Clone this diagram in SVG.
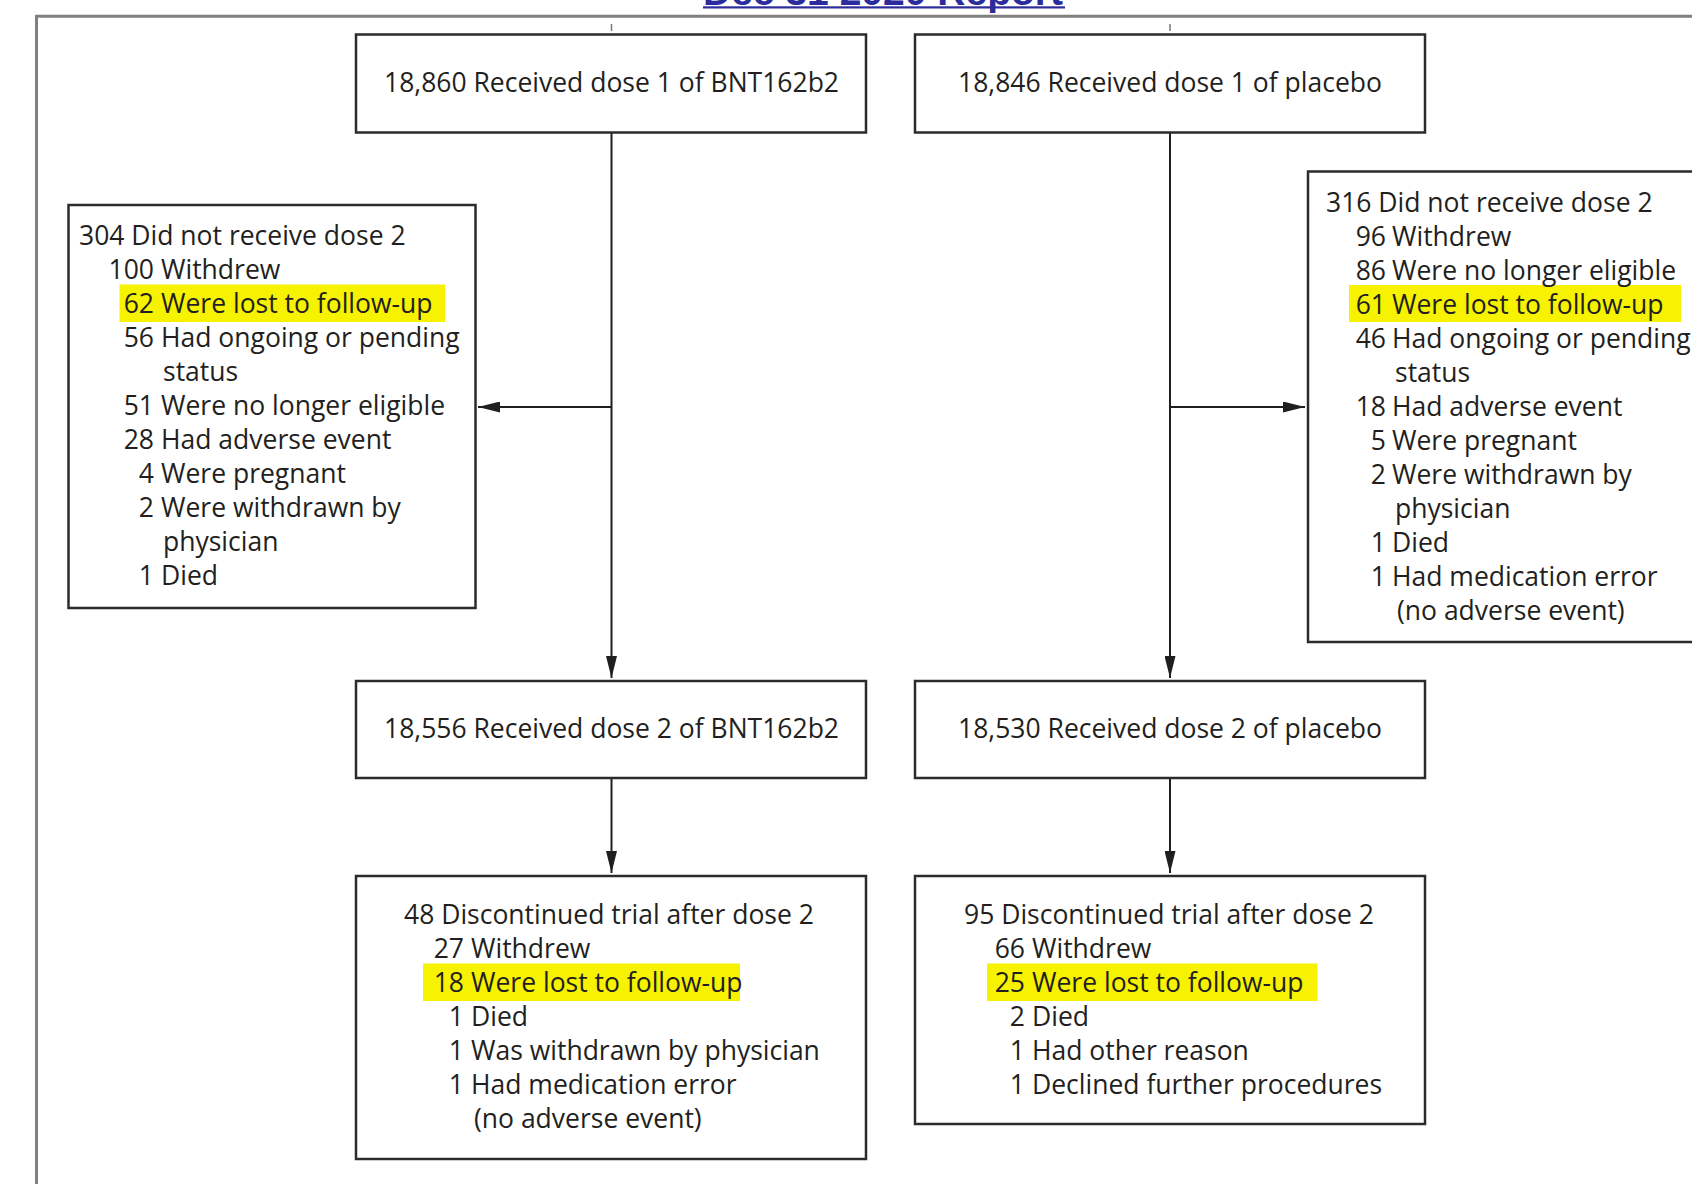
<svg xmlns="http://www.w3.org/2000/svg" width="1692" height="1184" viewBox="0 0 1692 1184">
<style>
  .box{fill:#fff;stroke:#2b2b2b;stroke-width:2.5}
  .t{font-family:"Open Sans","Noto Sans","DejaVu Sans",sans-serif;font-size:26.5px;fill:#231f20}
  .n{text-anchor:end}
  .c{text-anchor:middle}
  .hl{fill:#f7f200}
  .edge{fill:none;stroke:#1f1f1f;stroke-width:2}
  .tick{stroke:#777;stroke-width:1.5}
</style>
<defs>
  <marker id="ah" viewBox="0 0 22 11" refX="22" refY="5.5" markerWidth="22" markerHeight="11" markerUnits="userSpaceOnUse" orient="auto">
    <path d="M0,0 L22,5.5 L0,11 Z" fill="#1f1f1f"/>
  </marker>
</defs>
<rect width="1692" height="1184" fill="#fff"/>

<g id="header">
  <text x="703" y="4.5" font-family="'Liberation Sans',Arial,sans-serif" font-weight="bold" font-size="39" fill="#2c2c9c" textLength="360" lengthAdjust="spacingAndGlyphs">Dec 31 2020 Report</text>
  <rect x="703" y="6.3" width="362" height="2.2" fill="#2c2c9c"/>
</g>

<path id="frame" d="M36.5,1184 V16.3 H1692" fill="none" stroke="#808080" stroke-width="3"/>

<g id="connectors">
  <line class="tick" x1="611.5" y1="24" x2="611.5" y2="31"/>
  <line class="tick" x1="1170" y1="24" x2="1170" y2="31"/>
  <line class="edge" x1="611.5" y1="133" x2="611.5" y2="678" marker-end="url(#ah)"/>
  <line class="edge" x1="611.5" y1="407" x2="478" y2="407" marker-end="url(#ah)"/>
  <line class="edge" x1="1170" y1="133" x2="1170" y2="678" marker-end="url(#ah)"/>
  <line class="edge" x1="1170" y1="407" x2="1305" y2="407" marker-end="url(#ah)"/>
  <line class="edge" x1="611.5" y1="778" x2="611.5" y2="873" marker-end="url(#ah)"/>
  <line class="edge" x1="1170" y1="778" x2="1170" y2="873" marker-end="url(#ah)"/>
</g>

<g id="node-dose1-bnt">
  <rect class="box" x="356" y="34.5" width="510" height="98"/>
  <text class="t c" x="611.5" y="92">18,860 Received dose 1 of BNT162b2</text>
</g>

<g id="node-dose1-placebo">
  <rect class="box" x="915" y="34.5" width="510" height="98"/>
  <text class="t c" x="1170" y="92">18,846 Received dose 1 of placebo</text>
</g>

<g id="node-no-dose2-bnt">
  <rect class="box" x="68.5" y="205" width="407" height="403"/>
  <rect class="hl" x="119.5" y="284.5" width="325.5" height="37.5"/>
  <text class="t" x="79" y="245">304 Did not receive dose 2</text>
  <text class="t n" x="154" y="279">100</text><text class="t" x="161" y="279">Withdrew</text>
  <text class="t n" x="154" y="313">62</text><text class="t" x="161" y="313">Were lost to follow-up</text>
  <text class="t n" x="154" y="347">56</text><text class="t" x="161" y="347">Had ongoing or pending</text>
  <text class="t" x="163" y="381">status</text>
  <text class="t n" x="154" y="415">51</text><text class="t" x="161" y="415">Were no longer eligible</text>
  <text class="t n" x="154" y="449">28</text><text class="t" x="161" y="449">Had adverse event</text>
  <text class="t n" x="154" y="483">4</text><text class="t" x="161" y="483">Were pregnant</text>
  <text class="t n" x="154" y="517">2</text><text class="t" x="161" y="517">Were withdrawn by</text>
  <text class="t" x="163" y="551">physician</text>
  <text class="t n" x="154" y="585">1</text><text class="t" x="161" y="585">Died</text>
</g>

<g id="node-no-dose2-placebo">
  <rect class="box" x="1308" y="171.5" width="420" height="470.5"/>
  <rect class="hl" x="1349" y="285" width="332" height="37"/>
  <text class="t" x="1326" y="211.5">316 Did not receive dose 2</text>
  <text class="t n" x="1386" y="245.5">96</text><text class="t" x="1392" y="245.5">Withdrew</text>
  <text class="t n" x="1386" y="279.5">86</text><text class="t" x="1392" y="279.5">Were no longer eligible</text>
  <text class="t n" x="1386" y="313.5">61</text><text class="t" x="1392" y="313.5">Were lost to follow-up</text>
  <text class="t n" x="1386" y="347.5">46</text><text class="t" x="1392" y="347.5">Had ongoing or pending</text>
  <text class="t" x="1395" y="381.5">status</text>
  <text class="t n" x="1386" y="415.5">18</text><text class="t" x="1392" y="415.5">Had adverse event</text>
  <text class="t n" x="1386" y="449.5">5</text><text class="t" x="1392" y="449.5">Were pregnant</text>
  <text class="t n" x="1386" y="483.5">2</text><text class="t" x="1392" y="483.5">Were withdrawn by</text>
  <text class="t" x="1395" y="517.5">physician</text>
  <text class="t n" x="1386" y="551.5">1</text><text class="t" x="1392" y="551.5">Died</text>
  <text class="t n" x="1386" y="585.5">1</text><text class="t" x="1392" y="585.5">Had medication error</text>
  <text class="t" x="1397" y="619.5">(no adverse event)</text>
</g>

<g id="node-dose2-bnt">
  <rect class="box" x="356" y="681" width="510" height="97"/>
  <text class="t c" x="611.5" y="738">18,556 Received dose 2 of BNT162b2</text>
</g>

<g id="node-dose2-placebo">
  <rect class="box" x="915" y="681" width="510" height="97"/>
  <text class="t c" x="1170" y="738">18,530 Received dose 2 of placebo</text>
</g>

<g id="node-discontinued-bnt">
  <rect class="box" x="356" y="876" width="510" height="283"/>
  <rect class="hl" x="423" y="963.5" width="317" height="37.5"/>
  <text class="t" x="404" y="924">48 Discontinued trial after dose 2</text>
  <text class="t n" x="464" y="958">27</text><text class="t" x="471" y="958">Withdrew</text>
  <text class="t n" x="464" y="992">18</text><text class="t" x="471" y="992">Were lost to follow-up</text>
  <text class="t n" x="464" y="1026">1</text><text class="t" x="471" y="1026">Died</text>
  <text class="t n" x="464" y="1060">1</text><text class="t" x="471" y="1060">Was withdrawn by physician</text>
  <text class="t n" x="464" y="1094">1</text><text class="t" x="471" y="1094">Had medication error</text>
  <text class="t" x="474" y="1128">(no adverse event)</text>
</g>

<g id="node-discontinued-placebo">
  <rect class="box" x="915" y="876" width="510" height="248"/>
  <rect class="hl" x="987" y="963.5" width="330.5" height="37.5"/>
  <text class="t" x="964" y="924">95 Discontinued trial after dose 2</text>
  <text class="t n" x="1025" y="958">66</text><text class="t" x="1032" y="958">Withdrew</text>
  <text class="t n" x="1025" y="992">25</text><text class="t" x="1032" y="992">Were lost to follow-up</text>
  <text class="t n" x="1025" y="1026">2</text><text class="t" x="1032" y="1026">Died</text>
  <text class="t n" x="1025" y="1060">1</text><text class="t" x="1032" y="1060">Had other reason</text>
  <text class="t n" x="1025" y="1094">1</text><text class="t" x="1032" y="1094">Declined further procedures</text>
</g>
</svg>
